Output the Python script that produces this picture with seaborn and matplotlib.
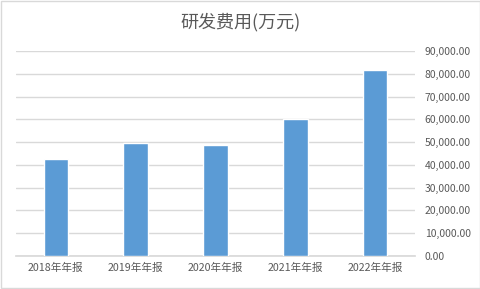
import matplotlib
matplotlib.use("Agg")
import matplotlib.pyplot as plt
import seaborn as sns
import pandas as pd
from matplotlib.patches import Rectangle
from matplotlib.ticker import FuncFormatter

categories = ["2018年年报", "2019年年报", "2020年年报", "2021年年报", "2022年年报"]
values = [42650, 49400, 48600, 59950, 81800]
yticks = [0, 10000, 20000, 30000, 40000, 50000, 60000, 70000, 80000, 90000]
title = "研发费用(万元)"

sns.set_theme(style="white")
plt.rcParams['font.family'] = ['Noto Sans CJK SC', 'DejaVu Sans']

df = pd.DataFrame({"period": categories, "value": values})

fig = plt.figure(figsize=(4.81, 2.89), dpi=100)
ax = fig.add_axes([16/481, 1-256/289, (415-16)/481, (256-51)/289])

sns.barplot(data=df, x="period", y="value", color="#5b9bd5", width=0.31,
            saturation=1, ax=ax, zorder=3)

ax.set_ylim(0, 90000)
ax.set_yticks(yticks)
ax.yaxis.tick_right()
ax.yaxis.set_major_formatter(FuncFormatter(lambda v, p: f"{v:,.2f}"))
ax.grid(axis="y", color="#d9d9d9", linewidth=1, zorder=0)
ax.set_axisbelow(True)
for s in ["top", "left", "right"]:
    ax.spines[s].set_visible(False)
ax.spines["bottom"].set_color("#d9d9d9")
ax.tick_params(axis="y", length=0, pad=7, labelsize=7.5, labelcolor="#595959")
ax.tick_params(axis="x", length=0, pad=5, labelsize=7.7, labelcolor="#595959")
ax.set_xlabel("")
ax.set_ylabel("")

fig.text(241/481, 1-22/289, title, ha="center", va="center", fontsize=13,
         color="#595959")

fig.patches.append(Rectangle((0.002, 0.003), 0.996, 0.994, transform=fig.transFigure,
                             fill=False, edgecolor="#d9d9d9", linewidth=1))

fig.savefig("out.png", dpi=100)
